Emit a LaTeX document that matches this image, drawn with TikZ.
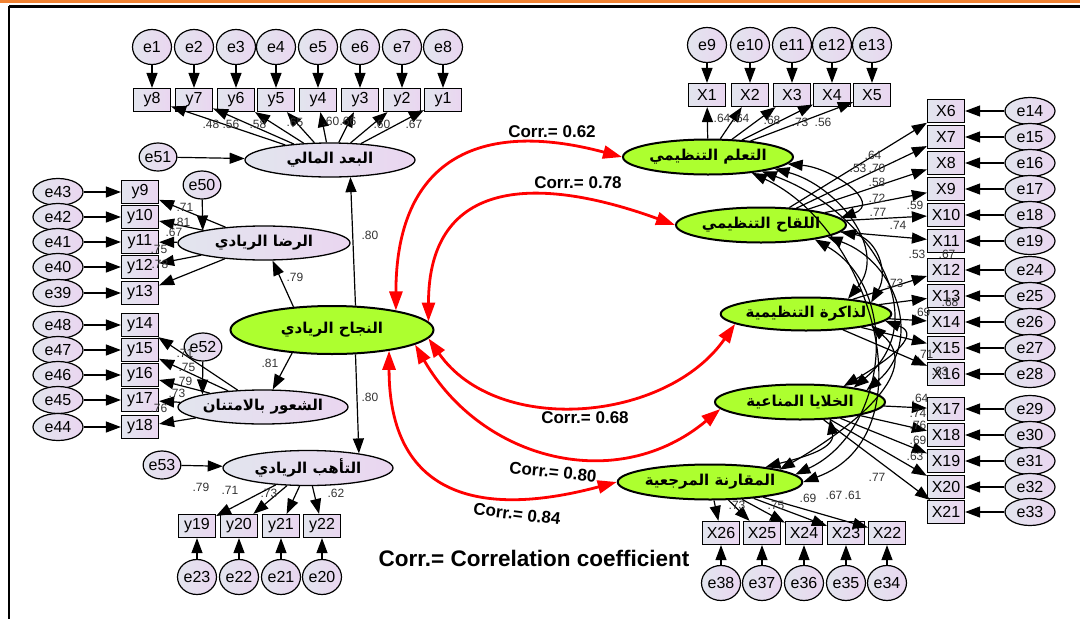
\documentclass[tikz,border=0pt]{standalone}
\usepackage{fontspec}
\setmainfont{Liberation Sans}
\newfontfamily\arabicfont[Script=Arabic]{DejaVu Sans}
\TeXXeTstate=1
\usetikzlibrary{shapes.geometric, arrows.meta}

\definecolor{amosgreen}{RGB}{173,255,47}
\definecolor{lavleft}{RGB}{226,229,238}
\definecolor{lavright}{RGB}{234,214,240}
\definecolor{barorange}{RGB}{240,130,50}

\newcommand{\artext}[1]{\beginR #1\endR}

\tikzstyle{err} = [ellipse, draw=black, line width=1.2pt, left color=lavleft, right color=lavright, minimum width=39pt, minimum height=35pt, inner sep=0pt, font=\fontsize{16}{16}\selectfont]
\tikzstyle{errside} = [err, minimum width=50pt, minimum height=27pt]
\tikzstyle{dist} = [err, minimum width=34pt, minimum height=28pt]
\tikzstyle{obs} = [rectangle, draw=black, line width=1.2pt, left color=lavleft, right color=lavright, minimum width=37pt, minimum height=23pt, inner sep=0pt, font=\fontsize{16}{16}\selectfont]
\tikzstyle{fac} = [ellipse, draw=black, line width=1.3pt, left color=lavleft, right color=lavright, minimum width=170pt, minimum height=34pt, inner sep=0pt, font=\arabicfont\bfseries\fontsize{15}{15}\selectfont]
\tikzstyle{facgreen} = [ellipse, draw=black, line width=2pt, fill=amosgreen, minimum width=170pt, minimum height=35pt, inner sep=0pt, font=\arabicfont\bfseries\fontsize{15}{15}\selectfont]
\tikzstyle{arrow} = [line width=1.2pt, -{Triangle[length=15pt,width=11pt]}]
\tikzstyle{cov} = [line width=1.2pt, {Triangle[length=15pt,width=11pt]}-{Triangle[length=15pt,width=11pt]}]
\tikzstyle{corr} = [red, line width=2.8pt, {Triangle[length=19pt,width=13pt]}-{Triangle[length=19pt,width=13pt]}]
\tikzstyle{load} = [inner sep=0pt, text=black!80, font=\fontsize{12}{12}\selectfont]
\tikzstyle{corrlabel} = [inner sep=0pt, font=\bfseries\fontsize{17}{17}\selectfont]

\begin{document}
\begin{tikzpicture}[x=1pt, y=-1pt]
	\useasboundingbox (0,0) rectangle (1080,619);
	% frame
	\draw[barorange, line width=3pt] (0,1.5) -- (1080,1.5);
	\draw[line width=3pt] (9,6) -- (1080,6);
	\draw[line width=2.5pt] (9,6) -- (9,619);

	% latent variables
	\node (succ) [facgreen, minimum width=203pt, minimum height=48pt] at (332,330) {\artext{النجاح الريادي}};
	\node (fin) [fac] at (330,160) {\artext{البعد المالي}};
	\node (sat) [fac, minimum width=172pt] at (264,243) {\artext{الرضا الريادي}};
	\node (grat) [fac] at (263,407) {\artext{الشعور بالامتنان}};
	\node (ready) [fac, minimum height=35pt] at (308,468) {\artext{التأهب الريادي}};
	\node (learn) [facgreen] at (708,157) {\artext{التعلم التنظيمي}};
	\node (inoc) [facgreen] at (761,225) {\artext{اللقاح التنظيمي}};
	\node (mem) [facgreen, minimum height=33pt] at (806,314) {\artext{لذاكرة التنظيمية}};
	\node (immune) [facgreen] at (800,402) {\artext{الخلايا المناعية}};
	\node (bench) [facgreen] at (710,482) {\artext{المقارنة المرجعية}};

	\node (e51) [dist] at (158,157) {e51};
	\node (e50) [dist] at (202,185) {e50};
	\node (e52) [dist] at (203,347) {e52};
	\node (e53) [dist] at (162,465) {e53};

	% indicators with their error terms
	\foreach \i/\x/\j in {1/152/8,2/194/7,3/236/6,4/276/5,5/318/4,6/360/3,7/402/2,8/443/1} {
		\node (e\i) [err] at (\x,47) {e\i};
		\node (y\j) [obs] at (\x,100) {y\j};
		\draw [arrow] (e\i) -- (y\j);
	}
	\foreach \i/\y/\j in {43/192/9,42/217/10,41/242/11,40/267/12,39/293/13,48/325/14,47/350/15,46/375/16,45/400/17,44/427/18} {
		\node (e\i) [errside] at (58,\y) {e\i};
		\node (y\j) [obs] at (140,\y) {y\j};
		\draw [arrow] (e\i) -- (y\j);
	}
	\foreach \j/\x/\i in {19/197/23,20/239/22,21/281/21,22/322/20} {
		\node (y\j) [obs] at (\x,526) {y\j};
		\node (e\i) [err] at (\x,577) {e\i};
		\draw [arrow] (e\i) -- (y\j);
	}
	\foreach \i/\x/\j in {9/707/1,10/750/2,11/792/3,12/832/4,13/872/5} {
		\node (e\i) [err] at (\x,45) {e\i};
		\node (X\j) [obs] at (\x,95) {X\j};
		\draw [arrow] (e\i) -- (X\j);
	}
	\foreach \j/\y/\i in {6/111/14,7/137/15,8/163/16,9/189/17,10/215/18,11/241/19,12/270/24,13/296/25,14/322/26,15/348/27,16/374/28,17/409/29,18/435/30,19/461/31,20/487/32,21/512/33} {
		\node (X\j) [obs] at (946,\y) {X\j};
		\node (e\i) [errside] at (1030,\y) {e\i};
		\draw [arrow] (e\i) -- (X\j);
	}
	\foreach \j/\x/\i in {26/721/38,25/762/37,24/804/36,23/846/35,22/887/34} {
		\node (X\j) [obs] at (\x,533) {X\j};
		\node (e\i) [err] at (\x,583) {e\i};
		\draw [arrow] (e\i) -- (X\j);
	}

	% loadings
	\foreach \j in {1,...,8} \draw [arrow] (fin) -- (y\j);
	\foreach \j in {9,...,13} \draw [arrow] (sat) -- (y\j);
	\foreach \j in {14,...,18} \draw [arrow] (grat) -- (y\j);
	\foreach \j in {19,...,22} \draw [arrow] (ready) -- (y\j);
	\foreach \j in {1,...,5} \draw [arrow] (learn) -- (X\j);
	\foreach \j in {6,...,11} \draw [arrow] (inoc) -- (X\j);
	\foreach \j in {12,...,16} \draw [arrow] (mem) -- (X\j);
	\foreach \j in {17,...,21} \draw [arrow] (immune) -- (X\j);
	\foreach \j in {22,...,26} \draw [arrow] (bench) -- (X\j);

	% second order paths
	\draw [arrow] (succ.46) -- (fin.-40);
	\draw [arrow] (succ.149) -- (sat.-64);
	\draw [arrow] (succ.210) -- (grat.61);
	\draw [arrow] (succ.-46) -- (ready.16);
	\draw [arrow] (e51) -- (fin);
	\draw [arrow] (e50) -- (sat.north west);
	\draw [arrow] (e52) -- (grat.north west);
	\draw [arrow] (e53) -- (ready);

	% covariances between the right factors
	\draw [cov] (learn.-5) to[out=-5, in=20, looseness=1.5] (inoc.5);
	\draw [cov] (learn.-10) to[out=-15, in=50, looseness=1.1] (mem.20);
	\draw [cov] (learn.-15) to[out=-20, in=40, looseness=1.2] (immune.15);
	\draw [cov] (learn.-20) to[out=-25, in=20, looseness=1.1] (bench.east);
	\draw [cov] (inoc.-5) to[out=-10, in=60, looseness=1.2] (mem.10);
	\draw [cov] (inoc.-10) to[out=-20, in=40, looseness=1.2] (immune.10);
	\draw [cov] (inoc.-15) to[out=-30, in=25, looseness=1.1] (bench.5);
	\draw [cov] (mem.-5) to[out=-20, in=30, looseness=1.4] (immune.20);
	\draw [cov] (mem.-10) to[out=-40, in=30, looseness=1.1] (bench.10);
	\draw [cov] (immune.-30) to[out=-80, in=15] (bench.15);

	% correlations with the central factor
	\draw [corr] (succ.17) to[out=90, in=165, looseness=1.4] (learn.west);
	\draw [corr] (succ.5) to[out=90, in=160, looseness=1.4] (inoc.west);
	\draw [corr] (succ.-5) to[out=-55, in=-125] (mem.-172);
	\draw [corr] (succ.-10) to[out=-60, in=-140, looseness=1.1] (immune.-175);
	\draw [corr] (succ.-20) to[out=-90, in=-165, looseness=1.4] (bench.west);

	% estimates
	\foreach \v/\x/\y [count=\n] in {.48/211/124,.56/231/124,.58/258/124,.65/295/122,.60/331/121,.66/348/121,.60/382/124,.67/414/124}
		\node [load] (lfin\n) at (\x,\y) {\v};
	\foreach \v/\x/\y [count=\n] in {.71/185/207,.81/182/222,.67/174/232,.75/159/249,.78/160/264}
		\node [load] (lsat\n) at (\x,\y) {\v};
	\foreach \v/\x/\y [count=\n] in {.71/185/353,.75/187/367,.79/184/381,.73/177/393,.76/159/408}
		\node [load] (lgrat\n) at (\x,\y) {\v};
	\foreach \v/\x/\y [count=\n] in {.79/201/487,.71/230/490,.73/269/493,.62/336/493}
		\node [load] (lready\n) at (\x,\y) {\v};
	\foreach \v/\x/\y [count=\n] in {.64/722/118,.64/741/118,.68/772/120,.73/800/122,.56/823/122}
		\node [load] (llearn\n) at (\x,\y) {\v};
	\foreach \v/\x/\y [count=\n] in {.64/873/155,.53/858/168,.70/877/168,.58/877/182,.72/877/198,.77/878/212,.59/915/205,.74/898/225}
		\node [load] (linoc\n) at (\x,\y) {\v};
	\foreach \v/\x/\y [count=\n] in {.53/917/254,.67/947/254,.73/895/283,.68/950/302,.69/922/312,.71/925/354,.63/940/371}
		\node [load] (lmem\n) at (\x,\y) {\v};
	\foreach \v/\x/\y [count=\n] in {.64/920/398,.74/918/413,.76/918/425,.69/918/440,.63/915/456}
		\node [load] (limmune\n) at (\x,\y) {\v};
	\foreach \v/\x/\y [count=\n] in {.73/737/505,.75/776/505,.69/808/498,.67/834/495,.61/853/495}
		\node [load] (lbench\n) at (\x,\y) {\v};
	\node [load] (lcov) at (877,477) {.77};
	\node [load] (lsucc1) at (370,235) {.80};
	\node [load] (lsucc2) at (295,277) {.79};
	\node [load] (lsucc3) at (270,363) {.81};
	\node [load] (lsucc4) at (370,397) {.80};

	\node [corrlabel] (c62) at (552,132) {Corr.= 0.62};
	\node [corrlabel] (c78) at (578,183) {Corr.= 0.78};
	\node [corrlabel] (c68) at (585,418) {Corr.= 0.68};
	\node [corrlabel, rotate=-6] (c80) at (553,472) {Corr.= 0.80};
	\node [corrlabel, rotate=-7] (c84) at (517,514) {Corr.= 0.84};
	\node [inner sep=0pt, font=\bfseries\fontsize{22.5}{22.5}\selectfont] (caption) at (534,558) {Corr.= Correlation coefficient};
\end{tikzpicture}
\end{document}
